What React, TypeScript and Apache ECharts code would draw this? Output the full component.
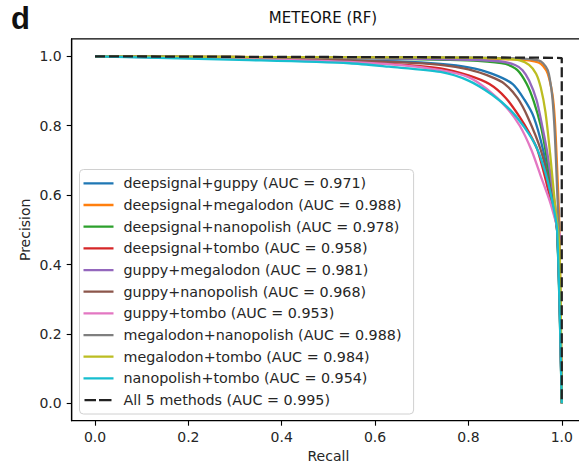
import React, { useEffect, useRef } from "react";
import * as echarts from "echarts";

const seriesNames = [
  "deepsignal+guppy (AUC = 0.971)",
  "deepsignal+megalodon (AUC = 0.988)",
  "deepsignal+nanopolish (AUC = 0.978)",
  "deepsignal+tombo (AUC = 0.958)",
  "guppy+megalodon (AUC = 0.981)",
  "guppy+nanopolish (AUC = 0.968)",
  "guppy+tombo (AUC = 0.953)",
  "megalodon+nanopolish (AUC = 0.988)",
  "megalodon+tombo (AUC = 0.984)",
  "nanopolish+tombo (AUC = 0.954)",
  "All 5 methods (AUC = 0.995)",
];

const colors = [
  "#1f77b4", "#ff7f0e", "#2ca02c", "#d62728", "#9467bd",
  "#8c564b", "#e377c2", "#7f7f7f", "#bcbd22", "#17becf", "#222222",
];

// [recall, precision]
const deepsignalGuppy = [[0, 1], [0.3, 0.995], [0.5, 0.99], [0.65, 0.985], [0.74, 0.978], [0.8, 0.968], [0.85, 0.95], [0.895, 0.92], [0.92, 0.875], [0.94, 0.825], [0.96, 0.73], [0.975, 0.62], [0.99, 0.5], [1, 0]];
const deepsignalMegalodon = [[0, 1], [0.3, 0.998], [0.6, 0.996], [0.8, 0.994], [0.9, 0.991], [0.93, 0.988], [0.95, 0.982], [0.96, 0.972], [0.97, 0.95], [0.98, 0.89], [0.985, 0.82], [0.99, 0.68], [0.995, 0.5], [1, 0]];
const deepsignalNanopolish = [[0, 1], [0.3, 0.997], [0.6, 0.994], [0.75, 0.99], [0.82, 0.987], [0.88, 0.978], [0.905, 0.96], [0.925, 0.92], [0.94, 0.87], [0.955, 0.8], [0.965, 0.73], [0.98, 0.6], [0.99, 0.5], [1, 0]];
const deepsignalTombo = [[0, 1], [0.3, 0.994], [0.5, 0.987], [0.65, 0.977], [0.74, 0.965], [0.8, 0.945], [0.845, 0.92], [0.88, 0.88], [0.91, 0.825], [0.93, 0.78], [0.948, 0.73], [0.97, 0.62], [0.99, 0.5], [1, 0]];
const guppyMegalodon = [[0, 1], [0.3, 0.997], [0.6, 0.994], [0.8, 0.99], [0.87, 0.985], [0.9, 0.975], [0.916, 0.96], [0.93, 0.93], [0.946, 0.874], [0.958, 0.8], [0.968, 0.73], [0.98, 0.62], [0.99, 0.52], [1, 0]];
const guppyNanopolish = [[0, 1], [0.3, 0.995], [0.5, 0.99], [0.65, 0.983], [0.74, 0.975], [0.8, 0.962], [0.85, 0.94], [0.878, 0.92], [0.905, 0.88], [0.927, 0.825], [0.955, 0.73], [0.975, 0.62], [0.99, 0.5], [1, 0]];
const guppyTombo = [[0, 1], [0.3, 0.993], [0.5, 0.986], [0.65, 0.975], [0.74, 0.96], [0.8, 0.94], [0.84, 0.905], [0.88, 0.855], [0.91, 0.8], [0.935, 0.73], [0.955, 0.655], [0.975, 0.58], [0.99, 0.51], [1, 0.47]];
const megalodonNanopolish = [[0, 1], [0.3, 0.998], [0.6, 0.997], [0.8, 0.996], [0.9, 0.994], [0.93, 0.992], [0.95, 0.988], [0.96, 0.98], [0.97, 0.96], [0.975, 0.93], [0.98, 0.88], [0.985, 0.78], [0.99, 0.62], [0.995, 0.45], [1, 0]];
const megalodonTombo = [[0, 1], [0.3, 0.998], [0.6, 0.997], [0.8, 0.996], [0.88, 0.993], [0.91, 0.988], [0.93, 0.975], [0.945, 0.95], [0.955, 0.91], [0.965, 0.84], [0.975, 0.72], [0.985, 0.58], [0.995, 0.45], [1, 0]];
const nanopolishTombo = [[0, 1], [0.33, 0.989], [0.545, 0.98], [0.63, 0.97], [0.74, 0.955], [0.8, 0.93], [0.85, 0.89], [0.89, 0.845], [0.92, 0.795], [0.945, 0.74], [0.965, 0.665], [0.98, 0.58], [0.99, 0.5], [1, 0]];
const allMethods = [[0, 1], [0.2, 0.999], [0.5, 0.998], [0.8, 0.997], [0.95, 0.996], [1, 0.995], [1, 0]];

const seriesData = [
  deepsignalGuppy, deepsignalMegalodon, deepsignalNanopolish, deepsignalTombo,
  guppyMegalodon, guppyNanopolish, guppyTombo, megalodonNanopolish,
  megalodonTombo, nanopolishTombo, allMethods,
];

const tickValues = [0, 0.2, 0.4, 0.6, 0.8, 1.0];

const FONT = "DejaVu Sans";
const TEXT = "#262626";

const SOLID_ICON = "path://M0,0h0.01v0.01h-0.01z M0,13.99h0.01v0.01h-0.01z M0,5.9h30v2.3h-30z";
const DASH_ICON = "path://M0,0h0.01v0.01h-0.01z M29.99,13.99h0.01v0.01h-0.01z M1,5.9h11.5v2.3h-11.5z M15.5,5.9h12.5v2.3h-12.5z";

export default function App() {
  const ref = useRef<HTMLDivElement>(null);
  useEffect(() => {
    if (!ref.current) return;
    const chart = echarts.init(ref.current, null, { renderer: "svg" });
    const axisCommon = {
      type: "value",
      min: -0.05,
      max: 1.05,
      splitLine: { show: false },
      axisLine: { show: true, onZero: false, lineStyle: { color: "#000", width: 1.2 } },
      axisTick: { show: true, inside: false, length: 5, customValues: tickValues, lineStyle: { color: "#000", width: 1.1 } },
      axisLabel: {
        customValues: tickValues,
        formatter: (v: number) => v.toFixed(1),
        color: TEXT,
        fontSize: 14,
        fontFamily: FONT,
        margin: 9,
      },
      nameLocation: "middle",
      nameMoveOverlap: false,
      nameTextStyle: { color: TEXT, fontSize: 14, fontFamily: FONT },
    };
    chart.setOption({
      animation: false,
      backgroundColor: "#fff",
      color: colors,
      grid: {
        left: 71.7,
        width: 513.4,
        top: 38.95,
        height: 381.75,
        outerBoundsMode: "none",
        containLabel: false,
        show: true,
        borderColor: "#000",
        borderWidth: 1.2,
        backgroundColor: "transparent",
      },
      xAxis: { ...axisCommon, name: "Recall", nameGap: 28.5 },
      yAxis: { ...axisCommon, name: "Precision", nameGap: 39.5, axisLabel: { ...axisCommon.axisLabel, margin: 10 } },
      legend: {
        orient: "vertical",
        left: 79.5,
        top: 169.5,
        padding: [6.8, 12, 7, 4],
        itemWidth: 30,
        itemHeight: 14,
        itemGap: 7.67,
        borderColor: "#d0d0d0",
        borderWidth: 1,
        borderRadius: 4,
        backgroundColor: "rgba(255,255,255,0.8)",
        textStyle: { color: TEXT, fontSize: 14.3, fontFamily: FONT, lineHeight: 14, padding: [0, 0, 0, 5] },
        data: seriesNames.map((name, i) => ({
          name,
          icon: i === seriesNames.length - 1 ? DASH_ICON : SOLID_ICON,
          itemStyle: { color: colors[i] },
        })),
      },
      graphic: [
        {
          type: "text",
          x: 323,
          y: 18,
          style: { text: "METEORE (RF)", fontSize: 15, fontFamily: FONT, fill: "#111", textAlign: "center", textVerticalAlign: "middle" },
        },
        {
          type: "text",
          x: 11,
          y: 18,
          style: { text: "d", fontSize: 31, fontWeight: "bold", fontFamily: "Liberation Sans", fill: "#111", textAlign: "left", textVerticalAlign: "middle" },
        },
      ],
      series: seriesNames.map((name, i) => {
        const dashed = i === seriesNames.length - 1;
        return {
          name,
          type: "line",
          data: seriesData[i],
          showSymbol: false,
          symbol: "none",
          smooth: dashed ? false : 0.25,
          clip: false,
          lineStyle: dashed
            ? { color: colors[i], width: 2.3, type: [10, 4] }
            : { color: colors[i], width: 2.3 },
          itemStyle: { color: colors[i] },
          z: 2 + i * 0.01,
        };
      }),
    });
    return () => chart.dispose();
  }, []);
  return <div ref={ref} style={{ position: "fixed", left: 0, top: 0, width: 579, height: 470 }} />;
}
